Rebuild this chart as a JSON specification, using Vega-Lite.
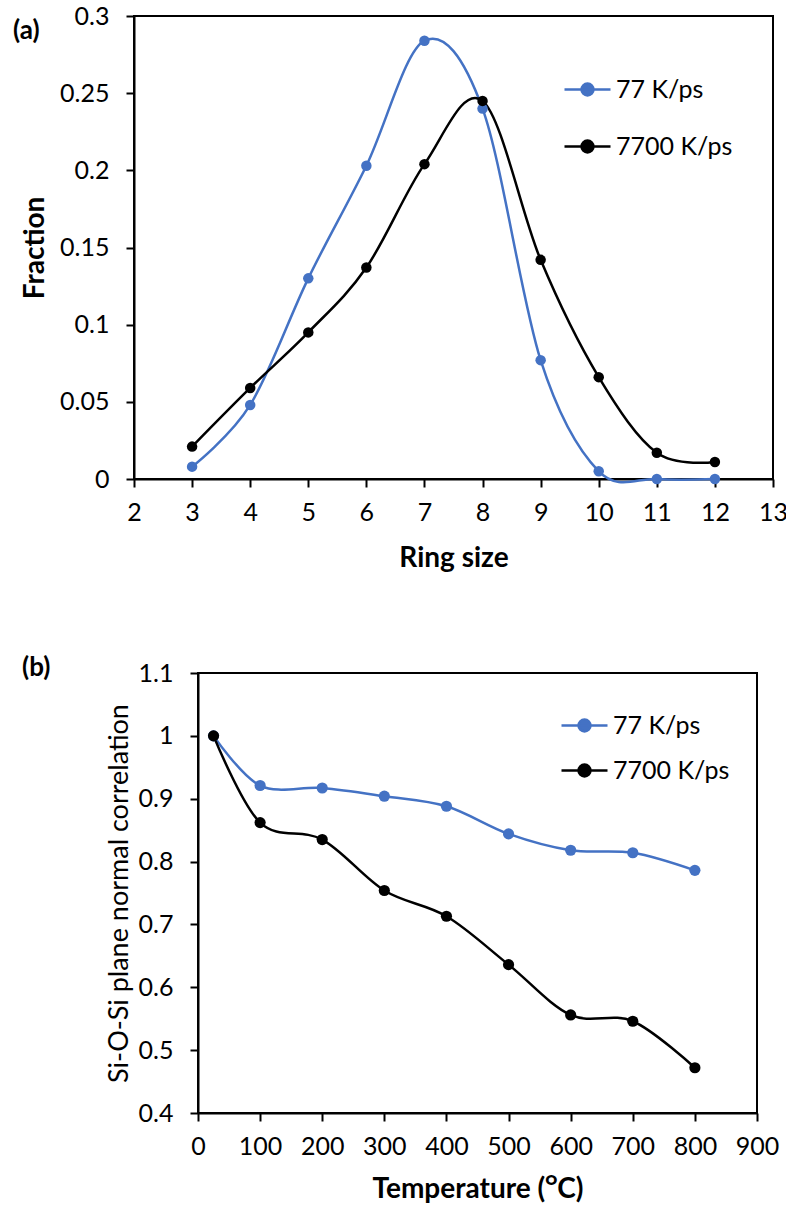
{
  "$schema": "https://vega.github.io/schema/vega-lite/v6.json",
  "background": "white",
  "padding": {"left": 6, "top": 3, "right": 5, "bottom": 5},
  "spacing": 81,
  "config": {
    "font": "Lato",
    "view": {"stroke": "black", "strokeWidth": 2},
    "axis": {
      "domainColor": "black", "domainWidth": 2, "tickColor": "black", "tickWidth": 2, "tickSize": 8,
      "labelFontSize": 25, "labelColor": "black", "labelFont": "Lato", "labelOverlap": false, "labelFlush": false,
      "titleFont": "Lato", "titleFontSize": 28, "titleFontWeight": "bold", "titleColor": "black",
      "grid": false
    },
    "legend": {
      "orient": "none", "title": null, "padding": 0,
      "symbolType": "M-1,0H1M-0.26,0A0.26,0.26 0 1,1 0.26,0A0.26,0.26 0 1,1 -0.26,0Z",
      "symbolSize": 2116, "symbolStrokeWidth": 2.5,
      "labelFontSize": 25, "labelColor": "black", "labelFont": "Lato", "labelOffset": 4,
      "symbolOpacity": 1
    }
  },
  "vconcat": [
    {"spacing": 0, "hconcat": [
    {
      "width": 2, "height": 1,
      "view": {"stroke": null},
      "data": {"values": [{"s": 0}]},
      "mark": {"type": "point", "opacity": 0},
      "encoding": {}
    },
    {
      "width": 639, "height": 463,
      "title": {"text": "(a)", "anchor": "start", "frame": "group", "fontSize": 26, "fontWeight": "bold", "color": "black", "dx": -121, "dy": 40, "offset": 0},
      "data": {"values": [
        {"ring": 3, "fraction": 0.008, "rate": "77 K/ps"},
        {"ring": 4, "fraction": 0.048, "rate": "77 K/ps"},
        {"ring": 5, "fraction": 0.130, "rate": "77 K/ps"},
        {"ring": 6, "fraction": 0.203, "rate": "77 K/ps"},
        {"ring": 7, "fraction": 0.284, "rate": "77 K/ps"},
        {"ring": 8, "fraction": 0.240, "rate": "77 K/ps"},
        {"ring": 9, "fraction": 0.077, "rate": "77 K/ps"},
        {"ring": 10, "fraction": 0.005, "rate": "77 K/ps"},
        {"ring": 11, "fraction": 0.0, "rate": "77 K/ps"},
        {"ring": 12, "fraction": 0.0, "rate": "77 K/ps"},
        {"ring": 3, "fraction": 0.021, "rate": "7700 K/ps"},
        {"ring": 4, "fraction": 0.059, "rate": "7700 K/ps"},
        {"ring": 5, "fraction": 0.095, "rate": "7700 K/ps"},
        {"ring": 6, "fraction": 0.137, "rate": "7700 K/ps"},
        {"ring": 7, "fraction": 0.204, "rate": "7700 K/ps"},
        {"ring": 8, "fraction": 0.245, "rate": "7700 K/ps"},
        {"ring": 9, "fraction": 0.142, "rate": "7700 K/ps"},
        {"ring": 10, "fraction": 0.066, "rate": "7700 K/ps"},
        {"ring": 11, "fraction": 0.017, "rate": "7700 K/ps"},
        {"ring": 12, "fraction": 0.011, "rate": "7700 K/ps"}
      ]},
      "mark": {"type": "line", "interpolate": "cardinal", "strokeWidth": 2.5, "point": {"filled": true, "size": 110}},
      "encoding": {
        "x": {"field": "ring", "type": "quantitative", "scale": {"domain": [2, 13]},
              "axis": {"values": [2, 3, 4, 5, 6, 7, 8, 9, 10, 11, 12, 13], "title": "Ring size", "labelPadding": 13, "titlePadding": 19}},
        "y": {"field": "fraction", "type": "quantitative", "scale": {"domain": [0, 0.3]},
              "axis": {"values": [0, 0.05, 0.1, 0.15, 0.2, 0.25, 0.3], "format": ".2~f", "title": "Fraction", "labelPadding": 17, "titlePadding": 10}},
        "color": {"field": "rate", "type": "nominal",
                  "scale": {"domain": ["77 K/ps", "7700 K/ps"], "range": ["#4472C4", "#000000"]},
                  "legend": {"legendX": 555, "legendY": 49, "rowPadding": 19,
                             "encode": {"symbols": {"update": {
                               "fill": {"signal": "datum.value === '77 K/ps' ? '#4472C4' : '#000000'"},
                               "stroke": {"signal": "datum.value === '77 K/ps' ? '#4472C4' : '#000000'"}}}}}}
      }
    }]},
    {"spacing": 0, "hconcat": [
    {
      "width": 13, "height": 1,
      "view": {"stroke": null},
      "data": {"values": [{"s": 0}]},
      "mark": {"type": "point", "opacity": 0},
      "encoding": {}
    },
    {
      "width": 559, "height": 440,
      "title": {"text": "(b)", "anchor": "start", "frame": "group", "fontSize": 26, "fontWeight": "bold", "color": "black", "dx": -176, "dy": 20, "offset": 0},
      "data": {"values": [
        {"temp": 25, "corr": 1.0, "rate": "77 K/ps"},
        {"temp": 100, "corr": 0.921, "rate": "77 K/ps"},
        {"temp": 200, "corr": 0.917, "rate": "77 K/ps"},
        {"temp": 300, "corr": 0.904, "rate": "77 K/ps"},
        {"temp": 400, "corr": 0.888, "rate": "77 K/ps"},
        {"temp": 500, "corr": 0.844, "rate": "77 K/ps"},
        {"temp": 600, "corr": 0.818, "rate": "77 K/ps"},
        {"temp": 700, "corr": 0.814, "rate": "77 K/ps"},
        {"temp": 800, "corr": 0.786, "rate": "77 K/ps"},
        {"temp": 25, "corr": 1.0, "rate": "7700 K/ps"},
        {"temp": 100, "corr": 0.862, "rate": "7700 K/ps"},
        {"temp": 200, "corr": 0.835, "rate": "7700 K/ps"},
        {"temp": 300, "corr": 0.754, "rate": "7700 K/ps"},
        {"temp": 400, "corr": 0.713, "rate": "7700 K/ps"},
        {"temp": 500, "corr": 0.636, "rate": "7700 K/ps"},
        {"temp": 600, "corr": 0.556, "rate": "7700 K/ps"},
        {"temp": 700, "corr": 0.546, "rate": "7700 K/ps"},
        {"temp": 800, "corr": 0.472, "rate": "7700 K/ps"}
      ]},
      "mark": {"type": "line", "interpolate": "cardinal", "strokeWidth": 2.5, "point": {"filled": true, "size": 125}},
      "encoding": {
        "x": {"field": "temp", "type": "quantitative", "scale": {"domain": [0, 900]},
              "axis": {"values": [0, 100, 200, 300, 400, 500, 600, 700, 800, 900], "title": "Temperature (ᴼC)", "labelPadding": 13, "titlePadding": 16}},
        "y": {"field": "corr", "type": "quantitative", "scale": {"domain": [0.4, 1.1]},
              "axis": {"values": [0.4, 0.5, 0.6, 0.7, 0.8, 0.9, 1.0, 1.1], "format": ".1~f", "title": "Si-O-Si plane normal correlation",
                       "titleFontSize": 27, "titleFontWeight": "normal", "labelPadding": 17, "titlePadding": 5}},
        "color": {"field": "rate", "type": "nominal",
                  "scale": {"domain": ["77 K/ps", "7700 K/ps"], "range": ["#4472C4", "#000000"]},
                  "legend": {"legendX": 552, "legendY": 28, "rowPadding": 7,
                             "encode": {"symbols": {"update": {
                               "fill": {"signal": "datum.value === '77 K/ps' ? '#4472C4' : '#000000'"},
                               "stroke": {"signal": "datum.value === '77 K/ps' ? '#4472C4' : '#000000'"}}}}}}
      }
    }]}
  ],
  "resolve": {"scale": {"color": "independent"}, "legend": {"color": "independent"}}
}
